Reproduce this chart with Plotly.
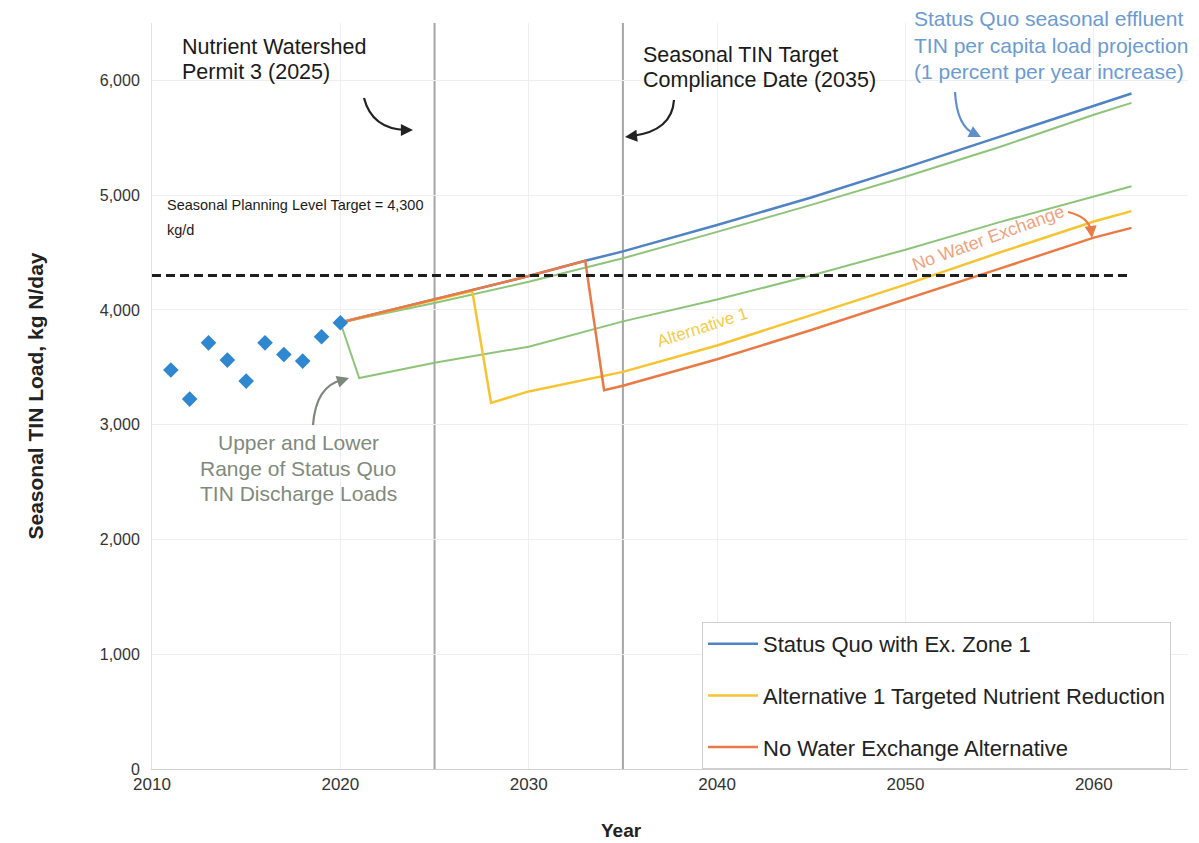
import plotly.graph_objects as go

# ---------------- data ----------------
hist_years = [2011, 2012, 2013, 2014, 2015, 2016, 2017, 2018, 2019, 2020]
hist_loads = [3476, 3223, 3713, 3563, 3380, 3713, 3612, 3554, 3766, 3888]

sq_years = [2020, 2025, 2030, 2033, 2035, 2040, 2045, 2050, 2055, 2060, 2062]
sq_loads = [3890, 4090, 4295, 4428, 4510, 4740, 4980, 5240, 5510, 5780, 5886]

upper_years = [2020, 2025, 2030, 2035, 2040, 2045, 2050, 2055, 2060, 2062]
upper_loads = [3890, 4060, 4245, 4450, 4680, 4915, 5160, 5420, 5700, 5804]

lower_years = [2020, 2021, 2025, 2030, 2035, 2040, 2045, 2050, 2055, 2060, 2062]
lower_loads = [3890, 3406, 3540, 3680, 3900, 4090, 4300, 4525, 4765, 4990, 5078]

alt1_years = [2020, 2025, 2027, 2028, 2030, 2035, 2040, 2045, 2050, 2055, 2060, 2062]
alt1_loads = [3890, 4090, 4165, 3190, 3290, 3460, 3690, 3955, 4220, 4500, 4770, 4861]

nwe_years = [2020, 2025, 2030, 2033, 2034, 2035, 2040, 2045, 2050, 2055, 2060, 2062]
nwe_loads = [3890, 4090, 4295, 4428, 3301, 3340, 3570, 3825, 4090, 4360, 4630, 4715]

target_years = [2010, 2062]
target_loads = [4300, 4300]

milestone_years = [2025, 2035]

x_ticks = [2010, 2020, 2030, 2040, 2050, 2060]
y_ticks = [0, 1000, 2000, 3000, 4000, 5000, 6000]
y_tick_text = ["0", "1,000", "2,000", "3,000", "4,000", "5,000", "6,000"]

legend_names = ["Status Quo with Ex. Zone 1",
                "Alternative 1 Targeted Nutrient Reduction",
                "No Water Exchange Alternative"]

# ---------------- layout geometry ----------------
W, H = 1199, 843
ML, MR, MT, MB = 152, 11, 23, 74
X0, X1 = 2010, 2065
Y0, Y1 = 0, 6500
PW = W - ML - MR
PH = H - MT - MB


def P(px, py):
    """pixel position -> data coordinates"""
    x = X0 + (px - ML) / PW * (X1 - X0)
    y = Y0 + (H - MB - py) / PH * (Y1 - Y0)
    return x, y


def Q(px, py):
    """pixel position -> paper coordinates"""
    return (px - ML) / PW, (H - MB - py) / PH


BLUE = "#4f83c3"
YELLOW = "#f7c431"
ORANGE = "#ea7a45"
GREEN = "#8dc47a"
DIAMOND = "#2f87cf"
FONT = "Liberation Sans, Arial, sans-serif"

fig = go.Figure()

fig.add_trace(go.Scatter(x=upper_years, y=upper_loads, mode="lines",
                         line=dict(color=GREEN, width=2), showlegend=False,
                         name="Upper range"))
fig.add_trace(go.Scatter(x=lower_years, y=lower_loads, mode="lines",
                         line=dict(color=GREEN, width=2), showlegend=False,
                         name="Lower range"))
fig.add_trace(go.Scatter(x=sq_years, y=sq_loads, mode="lines",
                         line=dict(color=BLUE, width=2.5), name=legend_names[0],
                         legendgroup="a"))
fig.add_trace(go.Scatter(x=alt1_years, y=alt1_loads, mode="lines",
                         line=dict(color=YELLOW, width=2.5), name=legend_names[1],
                         legendgroup="b"))
fig.add_trace(go.Scatter(x=nwe_years, y=nwe_loads, mode="lines",
                         line=dict(color=ORANGE, width=2.5), name=legend_names[2],
                         legendgroup="c"))
fig.add_trace(go.Scatter(x=target_years, y=target_loads, mode="lines",
                         line=dict(color="#1e1e1e", width=3, dash="9px,5px"),
                         showlegend=False, name="Target"))
fig.add_trace(go.Scatter(x=hist_years, y=hist_loads, mode="markers",
                         marker=dict(symbol="diamond", size=12, color=DIAMOND),
                         showlegend=False, name="Historical"))

shapes = []
for yr in milestone_years:
    shapes.append(dict(type="line", xref="x", yref="paper", x0=yr, x1=yr,
                       y0=0, y1=1, line=dict(color="#a6a6a6", width=2),
                       layer="below"))


def curve(p0, c, p1, color):
    a = P(*p0)
    b = P(*c)
    d = P(*p1)
    path = f"M {a[0]},{a[1]} Q {b[0]},{b[1]} {d[0]},{d[1]}"
    shapes.append(dict(type="path", path=path, xref="x", yref="y",
                       line=dict(color=color, width=2.2)))


annotations = []


def head(p1, ax, ay, color):
    x, y = P(*p1)
    annotations.append(dict(x=x, y=y, ax=ax, ay=ay, xref="x", yref="y",
                            text="", showarrow=True, arrowhead=2,
                            arrowsize=1.1, arrowwidth=2.2, arrowcolor=color))


# curved arrows
curve((364, 98), (372, 129), (406, 130), "#222222")
head((413, 130), -9, 0, "#222222")
curve((674, 100), (672, 131), (632, 136), "#222222")
head((625, 137), 9, -1, "#222222")
curve((955, 92), (957, 127), (975, 134), "#5f8fcb")
head((981, 137), -8, -4, "#5f8fcb")
curve((313, 425), (316, 386), (342, 380), "#7d877b")
head((349, 378), -9, 3, "#7d877b")
curve((1068, 212), (1089, 217), (1091, 231), "#ea7a45")
head((1092, 238), -1, -9, "#ea7a45")


def text(px, py, s, size=21, color="#1a1a1a", xanchor="left", angle=0):
    x, y = Q(px, py)
    annotations.append(dict(x=x, y=y, xref="paper", yref="paper", text=s,
                            showarrow=False, xanchor=xanchor, yanchor="middle",
                            textangle=angle,
                            font=dict(family=FONT, size=size, color=color)))


def lines(px, py, step, items, **kw):
    for i, s in enumerate(items):
        text(px, py + i * step, s, **kw)


lines(180, 47, 25, ["Nutrient Watershed", "Permit 3 (2025)"], size=21.5)
lines(641, 55, 25, ["Seasonal TIN Target", "Compliance Date (2035)"], size=21.5)
lines(912, 19, 26, ["Status Quo seasonal effluent",
                    "TIN per capita load projection",
                    "(1 percent per year increase)"], size=21, color="#6b9bd2")
lines(165, 205, 25, ["Seasonal Planning Level Target = 4,300", "kg/d"], size=14.5)
lines(298, 443, 25, ["Upper and Lower", "Range of Status Quo",
                     "TIN Discharge Loads"], size=21, color="#7f8a7c",
      xanchor="center")
text(702, 327, "Alternative 1", size=17, color="#f4cc4a", xanchor="center",
     angle=-18)
text(988, 238, "No Water Exchange", size=18, color="#f0a27d", xanchor="center",
     angle=-20)
# x-axis title (placed as in the reference, left of plot centre)
text(621, 830, "<b>Year</b>", size=19, color="#222222", xanchor="center")

fig.update_layout(
    width=W, height=H,
    margin=dict(l=ML, r=MR, t=MT, b=MB, autoexpand=False),
    paper_bgcolor="white", plot_bgcolor="white",
    font=dict(family=FONT, size=16, color="#333333"),
    shapes=shapes, annotations=annotations,
    legend=dict(x=(702 - ML) / PW, y=(H - MB - 622) / PH, xanchor="left",
                yanchor="top", bgcolor="white", bordercolor="#cfcfcf",
                borderwidth=1, font=dict(family=FONT, size=22, color="#222222"),
                traceorder="grouped", tracegroupgap=20, itemwidth=50),
    xaxis=dict(range=[X0, X1], tickvals=x_ticks, ticks="",
               showgrid=True, gridcolor="#efefef", gridwidth=1,
               showline=True, linecolor="#cfcfcf", linewidth=1, zeroline=False,
               tickfont=dict(family=FONT, size=17, color="#333333")),
    yaxis=dict(range=[Y0, Y1], tickvals=y_ticks, ticktext=y_tick_text, ticks="",
               showgrid=True, gridcolor="#efefef", gridwidth=1,
               showline=True, linecolor="#e3e3e3", linewidth=1, zeroline=False,
               tickfont=dict(family=FONT, size=16, color="#333333"),
               ticklabelstandoff=8,
               title=dict(text="<b>Seasonal TIN Load, kg N/day</b>", standoff=50,
                          font=dict(family=FONT, size=21, color="#222222"))),
)

fig.write_html("out.html", config={"displayModeBar": False},
               post_script="document.body.style.margin='0px';")
